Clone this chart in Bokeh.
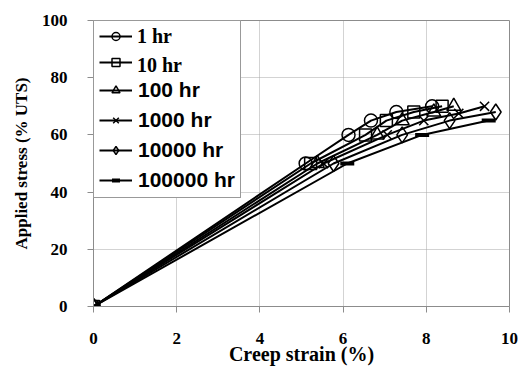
from bokeh.plotting import figure
from bokeh.models import Legend, LegendItem, Range1d, FixedTicker
from bokeh.embed import file_html
from bokeh.resources import INLINE

# Creep strain (%) and applied stress (% UTS) for each rupture time
durations = ["1 hr", "10 hr", "100 hr", "1000 hr", "10000 hr", "100000 hr"]
strain_1hr = [0, 5.10, 6.13, 6.67, 7.28, 8.14]
stress_1hr = [0, 50, 60, 65, 68, 70]
strain_10hr = [0, 5.22, 6.54, 7.04, 7.70, 8.38]
stress_10hr = [0, 50, 60, 65, 68, 70]
strain_100hr = [0, 5.38, 6.82, 7.42, 8.18, 8.66]
stress_100hr = [0, 50, 60, 65, 68, 70]
strain_1000hr = [0, 5.53, 7.06, 7.94, 8.78, 9.40]
stress_1000hr = [0, 50, 60, 65, 67.5, 70]
strain_10000hr = [0, 5.77, 7.42, 8.56, 9.67]
stress_10000hr = [0, 50, 60, 65, 68]
strain_100000hr = [0, 6.10, 7.90, 9.50]
stress_100000hr = [0, 50, 60, 65]

x_ticks = [0, 2, 4, 6, 8, 10]
y_ticks = [0, 20, 40, 60, 80, 100]

series = [
    (strain_1hr, stress_1hr, "circle", 13),
    (strain_10hr, stress_10hr, "square", 12),
    (strain_100hr, stress_100hr, "triangle", 14),
    (strain_1000hr, stress_1000hr, "x", 13),
    (strain_10000hr, stress_10000hr, "diamond", 16),
    (strain_100000hr, stress_100000hr, "dash", 14),
]

p = figure(width=522, height=367, output_backend="svg", toolbar_location=None,
           x_range=Range1d(0, 10), y_range=Range1d(0, 100),
           min_border_left=93, min_border_right=13, min_border_top=20,
           min_border_bottom=61)

p.background_fill_color = "white"
p.border_fill_color = "white"
p.outline_line_color = "#8c8c8c"
p.outline_line_width = 1

serif = "Liberation Serif"
sans = "Liberation Sans"

for ax, ticks in ((p.xaxis[0], x_ticks), (p.yaxis[0], y_ticks)):
    ax.ticker = FixedTicker(ticks=ticks)
    ax.axis_line_color = "#8c8c8c"
    ax.major_tick_line_color = "#8c8c8c"
    ax.major_tick_out = 6
    ax.major_tick_in = 0
    ax.minor_tick_line_color = None
    ax.major_label_text_font = serif
    ax.major_label_text_font_style = "bold"
    ax.major_label_text_font_size = "17px"
    ax.major_label_text_color = "black"
    ax.axis_label_text_font = serif
    ax.axis_label_text_font_style = "bold"
    ax.axis_label_text_font_size = "17px"
    ax.axis_label_text_color = "black"

p.xaxis.axis_label = "Creep strain (%)"
p.yaxis.axis_label = "Applied stress (% UTS)"
p.xaxis.axis_label_text_font_size = "20px"
p.xaxis.major_label_standoff = 20
p.yaxis.major_label_standoff = 20
p.xaxis.axis_label_standoff = -4
p.yaxis.axis_label_standoff = 8

p.grid.grid_line_color = "#a6a6a6"
p.grid.grid_line_dash = "1 1"
p.grid.grid_line_width = 1

renderers = []
for xs, ys, marker, size in series:
    ln = p.line(xs, ys, line_color="black", line_width=2)
    if marker == "dash":
        sc = p.scatter(xs, ys, marker=marker, size=size, line_color="black",
                       line_width=4)
    else:
        sc = p.scatter(xs, ys, marker=marker, size=size, line_color="black",
                       fill_alpha=0, line_width=1.5)
    renderers.append([ln, sc])

box_style = dict(location="top_left", margin=0, padding=5, spacing=6,
                 glyph_width=33, glyph_height=20, label_height=20,
                 label_standoff=6, label_text_font_style="bold",
                 label_text_color="black")

# framed legend: sans labels for the longer durations, blank for the first two
main_items = [LegendItem(label=(" " if i < 2 else durations[i]), renderers=r)
              for i, r in enumerate(renderers)]
legend = Legend(items=main_items, label_text_font=sans,
                label_text_font_size="21px", border_line_color="#333333",
                border_line_width=1, background_fill_color="white",
                background_fill_alpha=1, **box_style)
p.add_layout(legend)

# serif labels for the first two entries, laid over the same rows;
# their keys come from invisible placeholders so the glyphs are not doubled
ghost = p.line(x=[], y=[], line_alpha=0)
top_items = [LegendItem(label=durations[i], renderers=[ghost])
             for i in range(2)]
legend_top = Legend(items=top_items, label_text_font=serif,
                    label_text_font_size="20px", border_line_alpha=0,
                    background_fill_alpha=0, **box_style)
p.add_layout(legend_top)

open("out.html", "w").write(file_html(p, INLINE))
